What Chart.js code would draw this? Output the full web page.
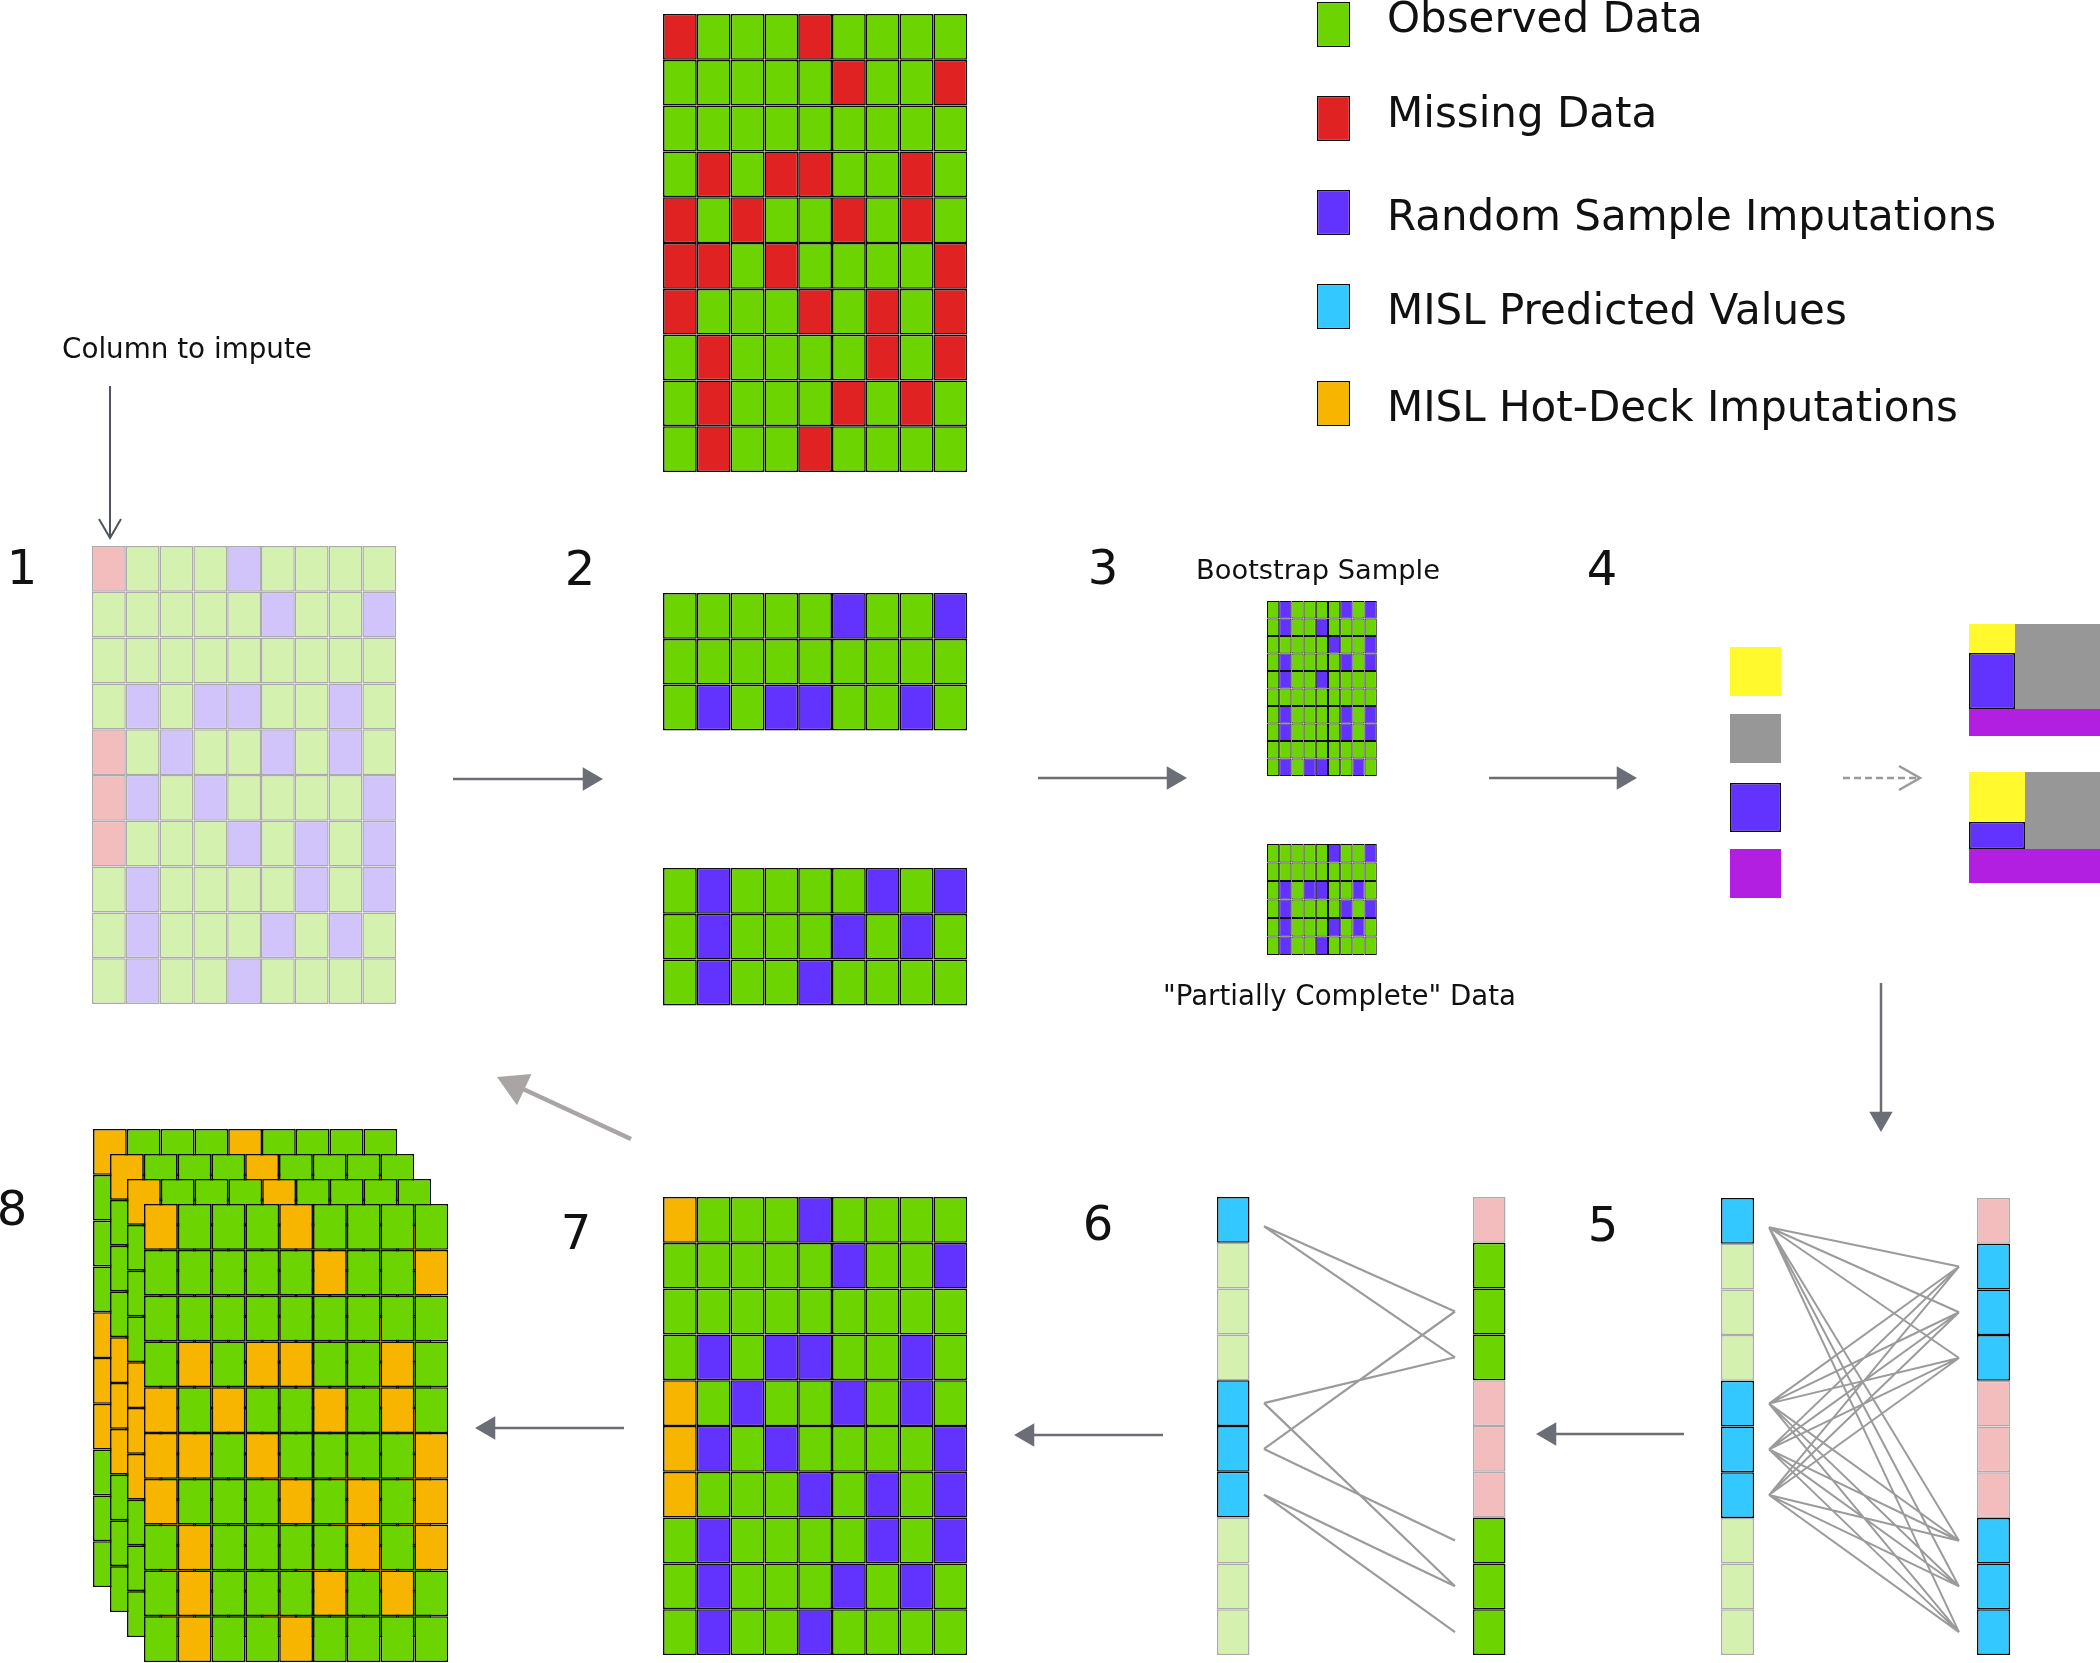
<!DOCTYPE html>
<html><head><meta charset="utf-8">
<script src="https://cdn.jsdelivr.net/npm/chart.js@4.4.1/dist/chart.umd.min.js"></script>
<style>html,body{margin:0;padding:0;background:#fff;overflow:hidden;}#wrap{position:relative;width:2100px;height:1663px;}</style>
</head><body><div id="wrap"><canvas id="c"></canvas></div>
<script>
// ================= DATA (cell states) =================
// G observed, R missing, B random-sample imputation, C MISL predicted, O hot-deck imputation
// g / r / b : faded observed / missing / random-sample cells
const observedMissing = ['RGGGRGGGG','GGGGGRGGR','GGGGGGGGG','GRGRRGGRG','RGRGGRGRG','RRGRGGGGR','RGGGRGRGR','GRGGGGRGR','GRGGGRGRG','GRGGRGGGG'];
const step1Faded = ['rgggbgggg','gggggbggb','ggggggggg','gbgbbggbg','rgbggbgbg','rbgbggggb','rgggbgbgb','gbggggbgb','gbgggbgbg','gbggbgggg'];
const step2Upper = ['GGGGGBGGB','GGGGGGGGG','GBGBBGGBG'];
const step2Lower = ['GBGGGGBGB','GBGGGBGBG','GBGGBGGGG'];
const bootstrapSample = ['GBGGGGBGB','GBGGBGGGG','GGGGGBGGB','GBGGGGBGB','GBGGBGGGG','GGGGGGGGG','GBGGGGBGB','GBGGGGBGB','GGGGGGGGG','GBGBBGGBG'];
const partiallyComplete = ['GGGGGBGGB','GGGGGGGGG','GBGBBGGBG','GBGGGGBGB','GBGGGBGBG','GBGGBGGGG'];
const learnerSwatches = ['Y','K','B','V'];
const step5Predicted = 'CgggCCCggg';
const step5Donors = 'rCCCrrrCCC';
const step5Links = [[0,1],[0,2],[0,3],[0,7],[0,8],[0,9],[4,1],[4,2],[4,3],[4,7],[4,8],[4,9],[5,1],[5,2],[5,3],[5,7],[5,8],[5,9],[6,1],[6,2],[6,3],[6,7],[6,8],[6,9]];
const step6Predicted = 'CgggCCCggg';
const step6Donors = 'rGGGrrrGGG';
const step6Links = [[0,2],[0,3],[4,3],[4,8],[5,2],[5,7],[6,8],[6,9]];
const step7Imputed = ['OGGGBGGGG','GGGGGBGGB','GGGGGGGGG','GBGBBGGBG','OGBGGBGBG','OBGBGGGGB','OGGGBGBGB','GBGGGGBGB','GBGGGBGBG','GBGGBGGGG'];
const step8Completed = ['OGGGOGGGG','GGGGGOGGO','GGGGGGGGG','GOGOOGGOG','OGOGGOGOG','OOGOGGGGO','OGGGOGOGO','GOGGGGOGO','GOGGGOGOG','GOGGOGGGG'];
const step8Copies = 4;
const legendKeys = ['G','R','B','C','O'];
const legendLabels = ['Observed Data','Missing Data','Random Sample Imputations','MISL Predicted Values','MISL Hot-Deck Imputations'];
const stepLabels = ['1','2','3','4','5','6','7','8'];
const captionColumn = 'Column to impute';
const captionBootstrap = 'Bootstrap Sample';
const captionPartial = '"Partially Complete" Data';

// ================= STYLE =================
const PALETTE = {G:'#6cd400',R:'#e12222',B:'#6233ff',C:'#33c8ff',O:'#f7b500',g:'#d4f1b0',r:'#f4bdbd',b:'#d1c4fb',Y:'#fff92e',K:'#979797',V:'#b21fe0'};
const EDGE = {G:'#0d0d0d',R:'#0d0d0d',B:'#0d0d0d',C:'#0d0d0d',O:'#0d0d0d',g:'#ababab',r:'#ababab',b:'#ababab'};
const ARROW_DARK = '#6b6e76';
const LINK_GREY = '#9b9b9b';

// ================= LAYOUT (pixel space of the 2100x1663 figure) =================
const CELL = {w:33.8, h:45.8};
const L = {
  top:{x:663,y:14}, step1:{x:92,y:546}, step2a:{x:663,y:593}, step2b:{x:663,y:868},
  boot:{x:1267,y:601,w:12.2,h:17.5}, partial:{x:1267,y:844,w:12.2,h:18.5},
  swatch:{x:1730,w:51,h:49,tops:[647,714,783,849]},
  s5:{lx:1721,rx:1977,y:1198,w:33,h:45.7,ax0:1769,ax1:1959},
  s6:{lx:1217,rx:1473,y:1197,w:32.5,h:45.8,ax0:1264,ax1:1455},
  step7:{x:663,y:1197}, step8:{x:144,y:1204,dx:17,dy:25},
  legend:{x:1317,w:33,h:45,tops:[2,96,190,284,381],textX:1387,baselines:[32,127,230,324,421]}
};
const PARTITIONS = [
  [{c:'Y',x:[1969,2015],y:[624,653]},{c:'B',x:[1969,2015],y:[653,709]},{c:'K',x:[2015,2110],y:[624,709]},{c:'V',x:[1969,2110],y:[709,736]}],
  [{c:'Y',x:[1969,2025],y:[772,822]},{c:'B',x:[1969,2025],y:[822,849]},{c:'K',x:[2025,2110],y:[772,849]},{c:'V',x:[1969,2110],y:[849,883]}]
];
const ARROWS = [
  {from:[453,779],to:[603,779]},{from:[1038,778],to:[1187,778]},{from:[1489,778],to:[1637,778]},
  {from:[1881,983],to:[1881,1132]},{from:[1684,1434],to:[1536,1434]},{from:[1163,1435],to:[1014,1435]},
  {from:[624,1428],to:[475,1428]}
];
const DIAG_ARROW = {from:[631,1139],to:[497,1077],r:20,color:'#a9a5a5',width:4.5};

// ================= BUILD =================
function gridCells(rows, ox, oy, w, h) {
  const out = [];
  rows.forEach((row, i) => [...row].forEach((c, j) => out.push({x: ox + (j + 0.5) * w, y: [oy + i * h, oy + (i + 1) * h], c})));
  return out;
}
const datasets = [];
const fill = ctx => ctx.raw ? PALETTE[ctx.raw.c] : 'transparent';
const edge = ctx => (ctx.raw && EDGE[ctx.raw.c]) ? EDGE[ctx.raw.c] : 'rgba(0,0,0,0)';
function addCells(cells, w, bw) {
  const lw = bw === undefined ? 1.6 : bw;
  datasets.push({type:'bar', data:cells, barThickness:w, grouped:false, borderSkipped:false,
    borderWidth: ctx => (ctx.raw && EDGE[ctx.raw.c]) ? lw : 0,
    backgroundColor:fill, borderColor:edge, inflateAmount:0});
}
function addLine(points, color, width, dash) {
  datasets.push({type:'line', data:points, borderColor:color, borderWidth:width, borderDash:dash||[],
    pointRadius:0, tension:0, fill:false, spanGaps:false, borderCapStyle:'butt'});
}
const heads = [];
function arrow(a, r, color, width) {
  const dx = a.to[0]-a.from[0], dy = a.to[1]-a.from[1], len = Math.hypot(dx,dy), ux = dx/len, uy = dy/len;
  addLine([{x:a.from[0],y:a.from[1]},{x:a.to[0]-ux*r*1.2,y:a.to[1]-uy*r*1.2}], color, width);
  heads.push({x:a.to[0]-ux*r, y:a.to[1]-uy*r, r, rot:Math.atan2(ux,-uy)*180/Math.PI, color});
}

// legend swatches
legendKeys.forEach((k,i)=> addCells([{x:L.legend.x+L.legend.w/2, y:[L.legend.tops[i], L.legend.tops[i]+L.legend.h], c:k}], L.legend.w, 1.3));
// matrices
addCells(gridCells(observedMissing, L.top.x, L.top.y, CELL.w, CELL.h), CELL.w);
addCells(gridCells(step1Faded, L.step1.x, L.step1.y, CELL.w, CELL.h), CELL.w, 1.5);
addCells(gridCells(step2Upper, L.step2a.x, L.step2a.y, CELL.w, CELL.h), CELL.w);
addCells(gridCells(step2Lower, L.step2b.x, L.step2b.y, CELL.w, CELL.h), CELL.w);
addCells(gridCells(bootstrapSample, L.boot.x, L.boot.y, L.boot.w, L.boot.h), L.boot.w, 1.0);
addCells(gridCells(partiallyComplete, L.partial.x, L.partial.y, L.partial.w, L.partial.h), L.partial.w, 1.0);
addCells(learnerSwatches.map((k,i)=>({x:L.swatch.x+L.swatch.w/2, y:[L.swatch.tops[i], L.swatch.tops[i]+L.swatch.h], c:k})), L.swatch.w);
PARTITIONS.forEach(block => block.forEach(p => addCells([{x:(p.x[0]+p.x[1])/2, y:p.y, c:p.c}], p.x[1]-p.x[0])));
addCells(gridCells([...step5Predicted], L.s5.lx, L.s5.y, L.s5.w, L.s5.h), L.s5.w, 1.5);
addCells(gridCells([...step5Donors], L.s5.rx, L.s5.y, L.s5.w, L.s5.h), L.s5.w, 1.5);
addCells(gridCells([...step6Predicted], L.s6.lx, L.s6.y, L.s6.w, L.s6.h), L.s6.w, 1.5);
addCells(gridCells([...step6Donors], L.s6.rx, L.s6.y, L.s6.w, L.s6.h), L.s6.w, 1.5);
addCells(gridCells(step7Imputed, L.step7.x, L.step7.y, CELL.w, CELL.h), CELL.w);
for (let k = 0; k < step8Copies; k++) {
  const back = step8Copies - 1 - k;
  addCells(gridCells(step8Completed, L.step8.x - back*L.step8.dx, L.step8.y - back*L.step8.dy, CELL.w, CELL.h), CELL.w);
}
// links (steps 5 and 6)
const anchorFrac = row => row === 0 ? 0.64 : 0.5;
function linkPoints(links, s) {
  const pts = [];
  links.forEach(([a,b]) => {
    pts.push({x:s.ax0, y:s.y+(a+anchorFrac(a))*s.h}, {x:s.ax1, y:s.y+(b+0.5)*s.h}, {x:s.ax1, y:null});
  });
  return pts;
}
addLine(linkPoints(step5Links, L.s5), LINK_GREY, 2);
addLine(linkPoints(step6Links, L.s6), LINK_GREY, 2.2);
// arrows
ARROWS.forEach(a => arrow(a, 13.5, ARROW_DARK, 2.5));
arrow(DIAG_ARROW, DIAG_ARROW.r, DIAG_ARROW.color, DIAG_ARROW.width);
// column-to-impute arrow (open chevron)
addLine([{x:110,y:386},{x:110,y:537}], '#50555d', 2);
addLine([{x:99,y:519},{x:110,y:538},{x:121,y:519}], '#50555d', 2);
// dashed arrow in step 4
addLine([{x:1843,y:778},{x:1917,y:778}], '#9a9a9a', 2.5, [7,4]);
addLine([{x:1899,y:766},{x:1920,y:778},{x:1899,y:790}], '#9a9a9a', 2.5);
// arrow heads
datasets.push({type:'line', showLine:false, data:heads.map(h=>({x:h.x,y:h.y})), pointStyle:'triangle',
  pointRadius:heads.map(h=>h.r), pointRotation:heads.map(h=>h.rot), pointBackgroundColor:heads.map(h=>h.color),
  pointBorderWidth:0, pointHoverRadius:heads.map(h=>h.r)});
datasets.forEach((d,i)=> d.order = -i);

// ================= TEXT =================
const FONT = '"DejaVu Sans", "Liberation Sans", sans-serif';
const TEXTS = [
  ...legendLabels.map((t,i)=>({t, x:L.legend.textX, y:L.legend.baselines[i], size:42, align:'left'})),
  {t:captionColumn, x:62, y:358, width:250, align:'left'},
  {t:captionBootstrap, x:1318, y:579, width:244, align:'center'},
  {t:captionPartial, x:1339.5, y:1005, width:353, align:'center'},
  ...[[22,584],[580,585],[1103,584],[1602,585],[1603,1241],[1098,1240],[576,1249],[12,1225]].map((p,i)=>({t:stepLabels[i], x:p[0], y:p[1], size:48, align:'center'}))
];
const textPlugin = {
  id:'diagramText',
  afterDatasetsDraw(chart) {
    const {ctx, scales:{x, y}} = chart;
    ctx.save();
    ctx.fillStyle = '#111';
    ctx.textBaseline = 'alphabetic';
    TEXTS.forEach(o => {
      let size = o.size;
      if (o.width) { ctx.font = '100px ' + FONT; size = 100 * o.width / ctx.measureText(o.t).width; }
      ctx.font = size.toFixed(2) + 'px ' + FONT;
      ctx.textAlign = o.align;
      ctx.fillText(o.t, x.getPixelForValue(o.x), y.getPixelForValue(o.y));
    });
    ctx.restore();
  }
};

new Chart(document.getElementById('c'), {
  type:'bar',
  data:{datasets},
  options:{
    responsive:true, maintainAspectRatio:false, animation:false, events:[],
    layout:{padding:0, autoPadding:false},
    plugins:{legend:{display:false}, tooltip:{enabled:false}},
    scales:{
      x:{type:'linear', min:0, max:2100, display:false, offset:false},
      y:{type:'linear', min:0, max:1663, reverse:true, display:false}
    }
  },
  plugins:[textPlugin]
});
</script></body></html>
